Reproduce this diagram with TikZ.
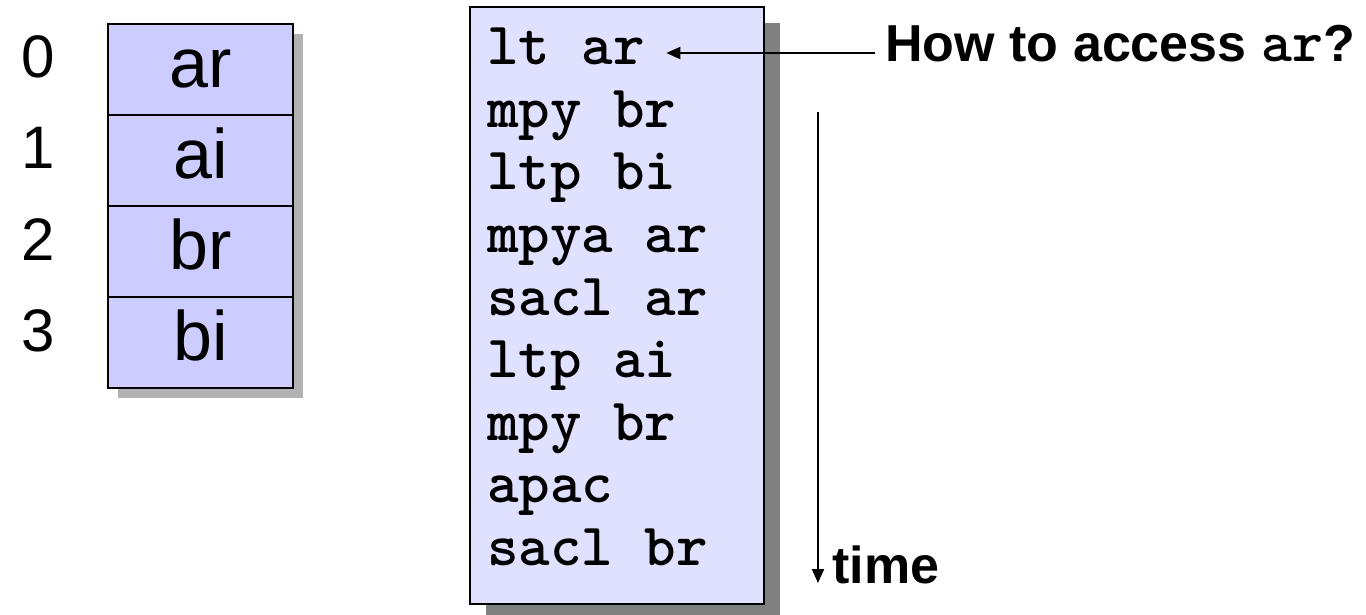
\documentclass[tikz,border=0pt]{standalone}
\usepackage{fontspec}
\setmainfont{Liberation Sans}
\usetikzlibrary{positioning,arrows.meta,shadows}
\definecolor{cellfill}{HTML}{CCCCFF}
\definecolor{codefill}{HTML}{E0E0FF}
\definecolor{lightshade}{HTML}{B2B2B2}
\definecolor{darkshade}{HTML}{808080}

\begin{document}
\begin{tikzpicture}[x=0.5pt,y=-0.5pt,
    cell/.style={draw,line width=1pt,fill=cellfill,minimum width=92.5pt,minimum height=45.5pt,
      inner sep=0pt,text height=18.2pt,text depth=0pt,font=\fontsize{35}{40}\selectfont,
      drop shadow={shadow xshift=5pt,shadow yshift=-5pt,fill=lightshade,opacity=1}},
    idx/.style={anchor=base,inner sep=0pt,font=\fontsize{30}{34}\selectfont},
    codebox/.style={draw,line width=1pt,fill=codefill,minimum width=147pt,minimum height=298.5pt,
      drop shadow={shadow xshift=8pt,shadow yshift=-8pt,fill=darkshade,opacity=1}},
    instr/.style={anchor=base west,inner sep=0pt,font=\fontsize{30}{32}\ttfamily\bfseries},
    note/.style={anchor=base west,inner sep=0pt,font=\fontsize{26}{30}\selectfont\bfseries},
    arrow/.style={line width=1pt,-{Triangle[length=7pt,width=6pt]}}]
  \useasboundingbox (0,0) rectangle (1366,615);

  % memory layout
  \foreach \val [count=\i from 0] in {ar,ai,br,bi} {
    \node[idx] (idx\i) at (38,78+91*\i) {\i};
    \node[cell] (cell\i) at (200.5,69.5+91*\i) {\val};
  }

  % program
  \node[codebox] (prog) at (617,305.5) {};
  \foreach \ins [count=\i] in {lt ar,mpy br,ltp bi,mpya ar,sacl ar,ltp ai,mpy br,apac,sacl br}
    \node[instr] (line\i) at (487,65+62.5*\i-62.5) {\ins};

  % notes
  \node[note] (question) at (885,62) {How to access {\fontsize{29.5}{30}\ttfamily ar}?};
  \node[note] (timelabel) at (832,583) {time};
  \coordinate (tstart) at (818,112);

  \draw[arrow,shorten <=5pt,shorten >=10.5pt]
    ([yshift=4.5pt]question.base west) -- ([yshift=6pt]line1.base east);
  \draw[arrow] (tstart) -- (tstart |- timelabel.base);
\end{tikzpicture}
\end{document}
